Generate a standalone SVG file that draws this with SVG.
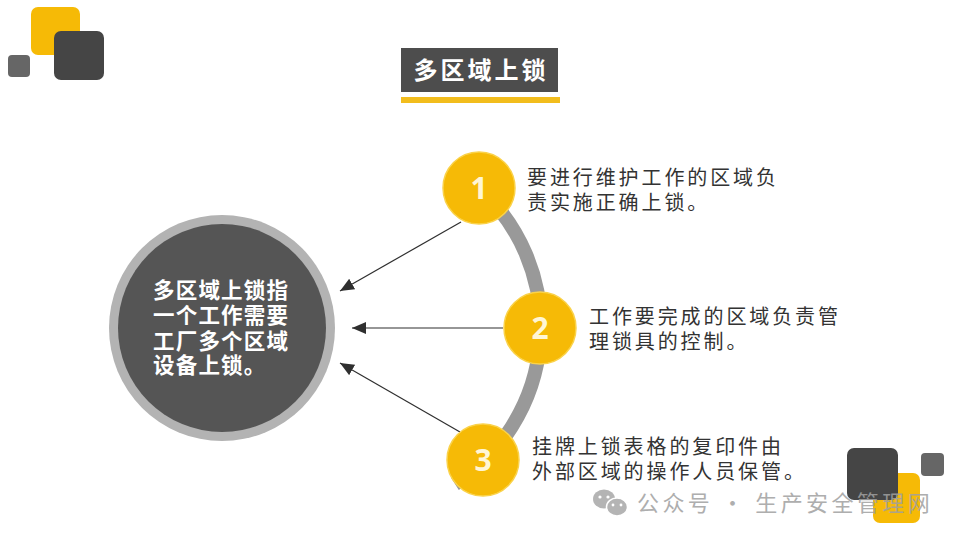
<svg xmlns="http://www.w3.org/2000/svg" width="960" height="540" viewBox="0 0 960 540">
  <defs>
    <style>
      .cjk { font-family: "Noto Sans CJK SC", "Noto Sans", sans-serif; }
      .title { font-size: 24px; font-weight: bold; fill: #ffffff; letter-spacing: 3px; }
      .center-text { font-size: 21.5px; font-weight: bold; fill: #ffffff; letter-spacing: 1.2px; }
      .desc { font-size: 20px; fill: #333333; letter-spacing: 2.9px; }
      .num { font-family: "Open Sans", "Liberation Sans", sans-serif; font-size: 30px; font-weight: bold; fill: #FFF6D5; }
      .badge { fill: #F6BA06; stroke: #FAD24A; stroke-width: 1.5; }
      .conn { stroke: #2f2f2f; stroke-width: 1.2; fill: none; marker-end: url(#arrow); }
      .wm { font-size: 22px; fill: #a0a0a0; letter-spacing: 3.4px; }
    </style>
    <marker id="arrow" markerUnits="userSpaceOnUse" markerWidth="16" markerHeight="14" refX="14" refY="6" orient="auto">
      <path d="M0,0 L14,6 L0,12 Z" fill="#2f2f2f"/>
    </marker>
  </defs>

  <rect width="960" height="540" fill="#ffffff"/>

  <!-- decorative squares top-left -->
  <g id="deco-top-left">
    <rect x="31" y="7" width="49" height="48" rx="7" fill="#F6BA06"/>
    <rect x="54" y="31" width="50" height="49" rx="7" fill="#454545"/>
    <rect x="8" y="55" width="22" height="22" rx="4" fill="#666666"/>
  </g>

  <!-- title -->
  <g id="title">
    <rect x="401" y="48" width="157" height="44" fill="#4d4d4d"/>
    <rect x="401" y="97" width="159" height="6" fill="#F2BD1D"/>
    <text class="cjk title" x="481" y="79" text-anchor="middle">多区域上锁</text>
  </g>

  <!-- arc -->
  <g id="arc">
    <path d="M 479 188 A 187 187 0 0 1 455 484" fill="none" stroke="#999999" stroke-width="14"/>
  </g>

  <!-- connectors -->
  <g id="connectors">
    <line class="conn" x1="461" y1="222" x2="340" y2="291"/>
    <line class="conn" x1="503" y1="328" x2="352" y2="328"/>
    <line class="conn" x1="460" y1="432" x2="340" y2="363"/>
  </g>

  <!-- central node -->
  <g id="center-node">
    <circle cx="222" cy="328" r="113" fill="#b3b3b3"/>
    <circle cx="222" cy="328" r="104" fill="#555555"/>
    <text class="cjk center-text" x="153" y="298">多区域上锁指</text>
    <text class="cjk center-text" x="153" y="323">一个工作需要</text>
    <text class="cjk center-text" x="153" y="349">工厂多个区域</text>
    <text class="cjk center-text" x="153" y="373">设备上锁。</text>
  </g>

  <!-- node 1 -->
  <g id="node-1">
    <circle class="badge" cx="479" cy="188" r="36"/>
    <text class="num" x="479" y="199" text-anchor="middle">1</text>
    <text class="cjk desc" x="527" y="185">要进行维护工作的区域负</text>
    <text class="cjk desc" x="527" y="210">责实施正确上锁。</text>
  </g>

  <!-- node 2 -->
  <g id="node-2">
    <circle class="badge" cx="540" cy="328" r="36"/>
    <text class="num" x="540" y="339" text-anchor="middle">2</text>
    <text class="cjk desc" x="589" y="324">工作要完成的区域负责管</text>
    <text class="cjk desc" x="589" y="349">理锁具的控制。</text>
  </g>

  <!-- node 3 -->
  <g id="node-3">
    <circle class="badge" cx="483" cy="460" r="36"/>
    <text class="num" x="483" y="471" text-anchor="middle">3</text>
    <text class="cjk desc" x="532" y="454">挂牌上锁表格的复印件由</text>
    <text class="cjk desc" x="532" y="479">外部区域的操作人员保管。</text>
  </g>

  <!-- decorative squares bottom-right -->
  <g id="deco-bottom-right">
    <rect x="873" y="473" width="47" height="50" rx="7" fill="#F6BA06"/>
    <rect x="847" y="448" width="51" height="52" rx="7" fill="#454545"/>
    <rect x="921" y="453" width="23" height="23" rx="4" fill="#666666"/>
  </g>

  <!-- watermark -->
  <g id="watermark" opacity="0.85">
    <ellipse cx="604" cy="499" rx="11" ry="9.5" fill="#a8a8a8"/>
    <ellipse cx="617" cy="507" rx="10.5" ry="9" fill="#a8a8a8" stroke="#ffffff" stroke-width="1.5"/>
    <circle cx="600" cy="497" r="1.6" fill="#ffffff"/>
    <circle cx="608" cy="497" r="1.6" fill="#ffffff"/>
    <circle cx="613" cy="505" r="1.4" fill="#ffffff"/>
    <circle cx="621" cy="505" r="1.4" fill="#ffffff"/>
    <text class="cjk wm" x="637" y="511">公众号 · 生产安全管理网</text>
  </g>
</svg>
